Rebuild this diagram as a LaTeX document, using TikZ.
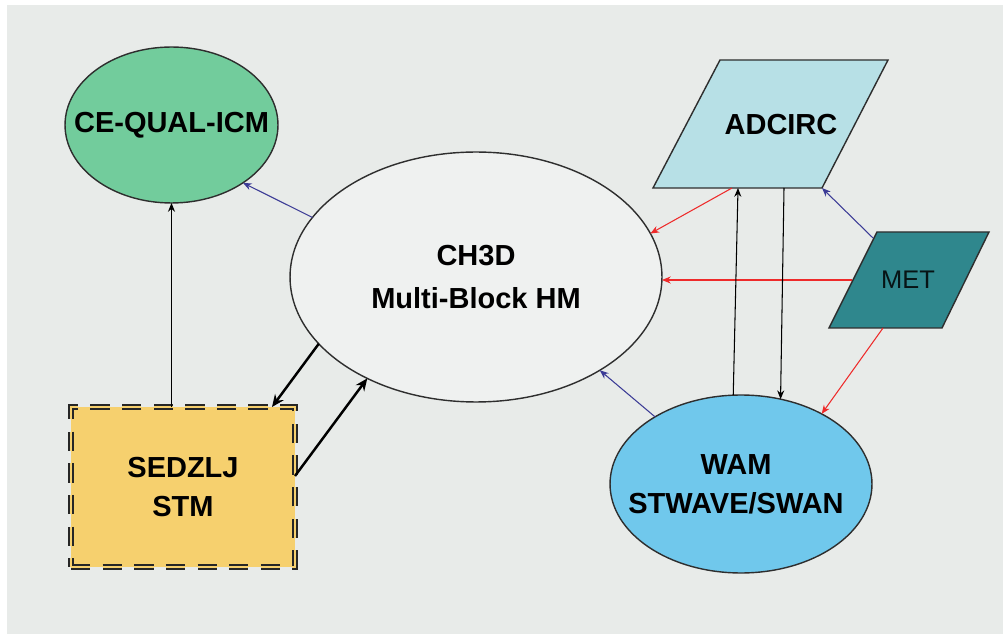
\documentclass[tikz,border=0pt]{standalone}
\usepackage{fontspec}
\setmainfont{Liberation Sans}
\usetikzlibrary{shapes.geometric,arrows.meta}
\definecolor{bgc}{HTML}{E8EBE9}
\definecolor{outl}{HTML}{2E2E2E}
\definecolor{greenf}{HTML}{72CC9C}
\definecolor{ch3df}{HTML}{EFF1F0}
\definecolor{yellowf}{HTML}{F6D06E}
\definecolor{adcf}{HTML}{B7E0E6}
\definecolor{metf}{HTML}{2F878D}
\definecolor{wamf}{HTML}{70C8EC}
\definecolor{bluea}{HTML}{3B3B96}
\definecolor{reda}{HTML}{EE2A2A}
\begin{document}
\begin{tikzpicture}[x=0.02cm,y=-0.02cm,
  lbl/.style={font=\fontsize{16.5}{22}\selectfont\bfseries, align=center, text=black},
  ell/.style={ellipse, draw=outl, line width=0.8pt, inner sep=0pt, outer sep=0pt},
  conn/.style={line width=0.6pt, -{Stealth[length=5pt,width=4pt]}},
  bluearr/.style={conn, draw=bluea},
  redarr/.style={conn, draw=reda},
  blackarr/.style={conn, draw=black},
  thickarr/.style={line width=1.4pt, draw=black, -{Stealth[length=7pt,width=6pt]}}]
\useasboundingbox (0,0) rectangle (1003,634);
\fill[white] (0,0) rectangle (1003,634);
\fill[bgc] (7,5) rectangle (1003,634);

% nodes
\node[ell, fill=greenf, minimum width=4.26cm, minimum height=3.12cm,
  label={[lbl]center:CE-QUAL-ICM}] (ceq) at (171.5,125) {};
\node[ell, fill=ch3df, minimum width=7.44cm, minimum height=5.0cm,
  label={[lbl, font=\fontsize{16.5}{24}\selectfont\bfseries]center:CH3D\\Multi-Block HM}] (ch3d) at (476,277) {};
\node[ell, fill=wamf, minimum width=5.24cm, minimum height=3.56cm,
  label={[lbl, xshift=-0.1cm]center:WAM\\STWAVE/SWAN}] (wam) at (741,484) {};
\node[rectangle, fill=yellowf, draw=black!85, double=yellowf, double distance=1.5pt, line width=0.8pt,
  dash pattern=on 11pt off 7pt, minimum width=4.48cm, minimum height=3.2cm, outer sep=0pt, lbl] (sed) at (183,487) {SEDZLJ\\STM};

% ADCIRC parallelogram
\coordinate (adTL) at (720,60);
\coordinate (adTR) at (888,60);
\coordinate (adBR) at (822,188);
\coordinate (adBL) at (653,188);
\draw[draw=outl, line width=0.8pt, fill=adcf] (adTL) -- (adTR) -- (adBR) -- (adBL) -- cycle;
\node[lbl] (adc) at (781,125) {ADCIRC};
\coordinate (adR) at (732,188);
\coordinate (adUp) at (738,188);
\coordinate (adDn) at (784,188);

% MET parallelogram
\coordinate (mTL) at (877,232);
\coordinate (mTR) at (989,232);
\coordinate (mBR) at (942,328);
\coordinate (mBL) at (829,328);
\draw[draw=outl, line width=0.8pt, fill=metf] (mTL) -- (mTR) -- (mBR) -- (mBL) -- cycle;
\node[font=\fontsize{14.5}{17}\selectfont, text=black!85!metf] (met) at (908,280) {MET};
\coordinate (mB) at (873,238);
\coordinate (mL) at (852,280);
\coordinate (mBot) at (883,328);

% connectors
\draw[bluearr] (ch3d.160.4) -- (ceq.-39.7);
\draw[blackarr] (sed.north -| ceq.south) -- (ceq.south);
\draw[thickarr] (ch3d.203.2) -- ([xshift=-0.46cm]sed.north east);
\draw[thickarr] ([yshift=0.22cm]sed.east) -- (ch3d.223.6);
\draw[redarr] (adR) -- (ch3d.14.5);
\draw[redarr] (mL) -- (mL -| ch3d.east);
\draw[bluearr] (mB) -- (adBR);
\draw[blackarr] (wam.95) -- (adUp);
\draw[blackarr] (adDn) -- (wam.65.6);
\draw[redarr] (mBot) -- (wam.41.3);
\draw[bluearr] (wam.142) -- (ch3d.-37.3);
\end{tikzpicture}
\end{document}
